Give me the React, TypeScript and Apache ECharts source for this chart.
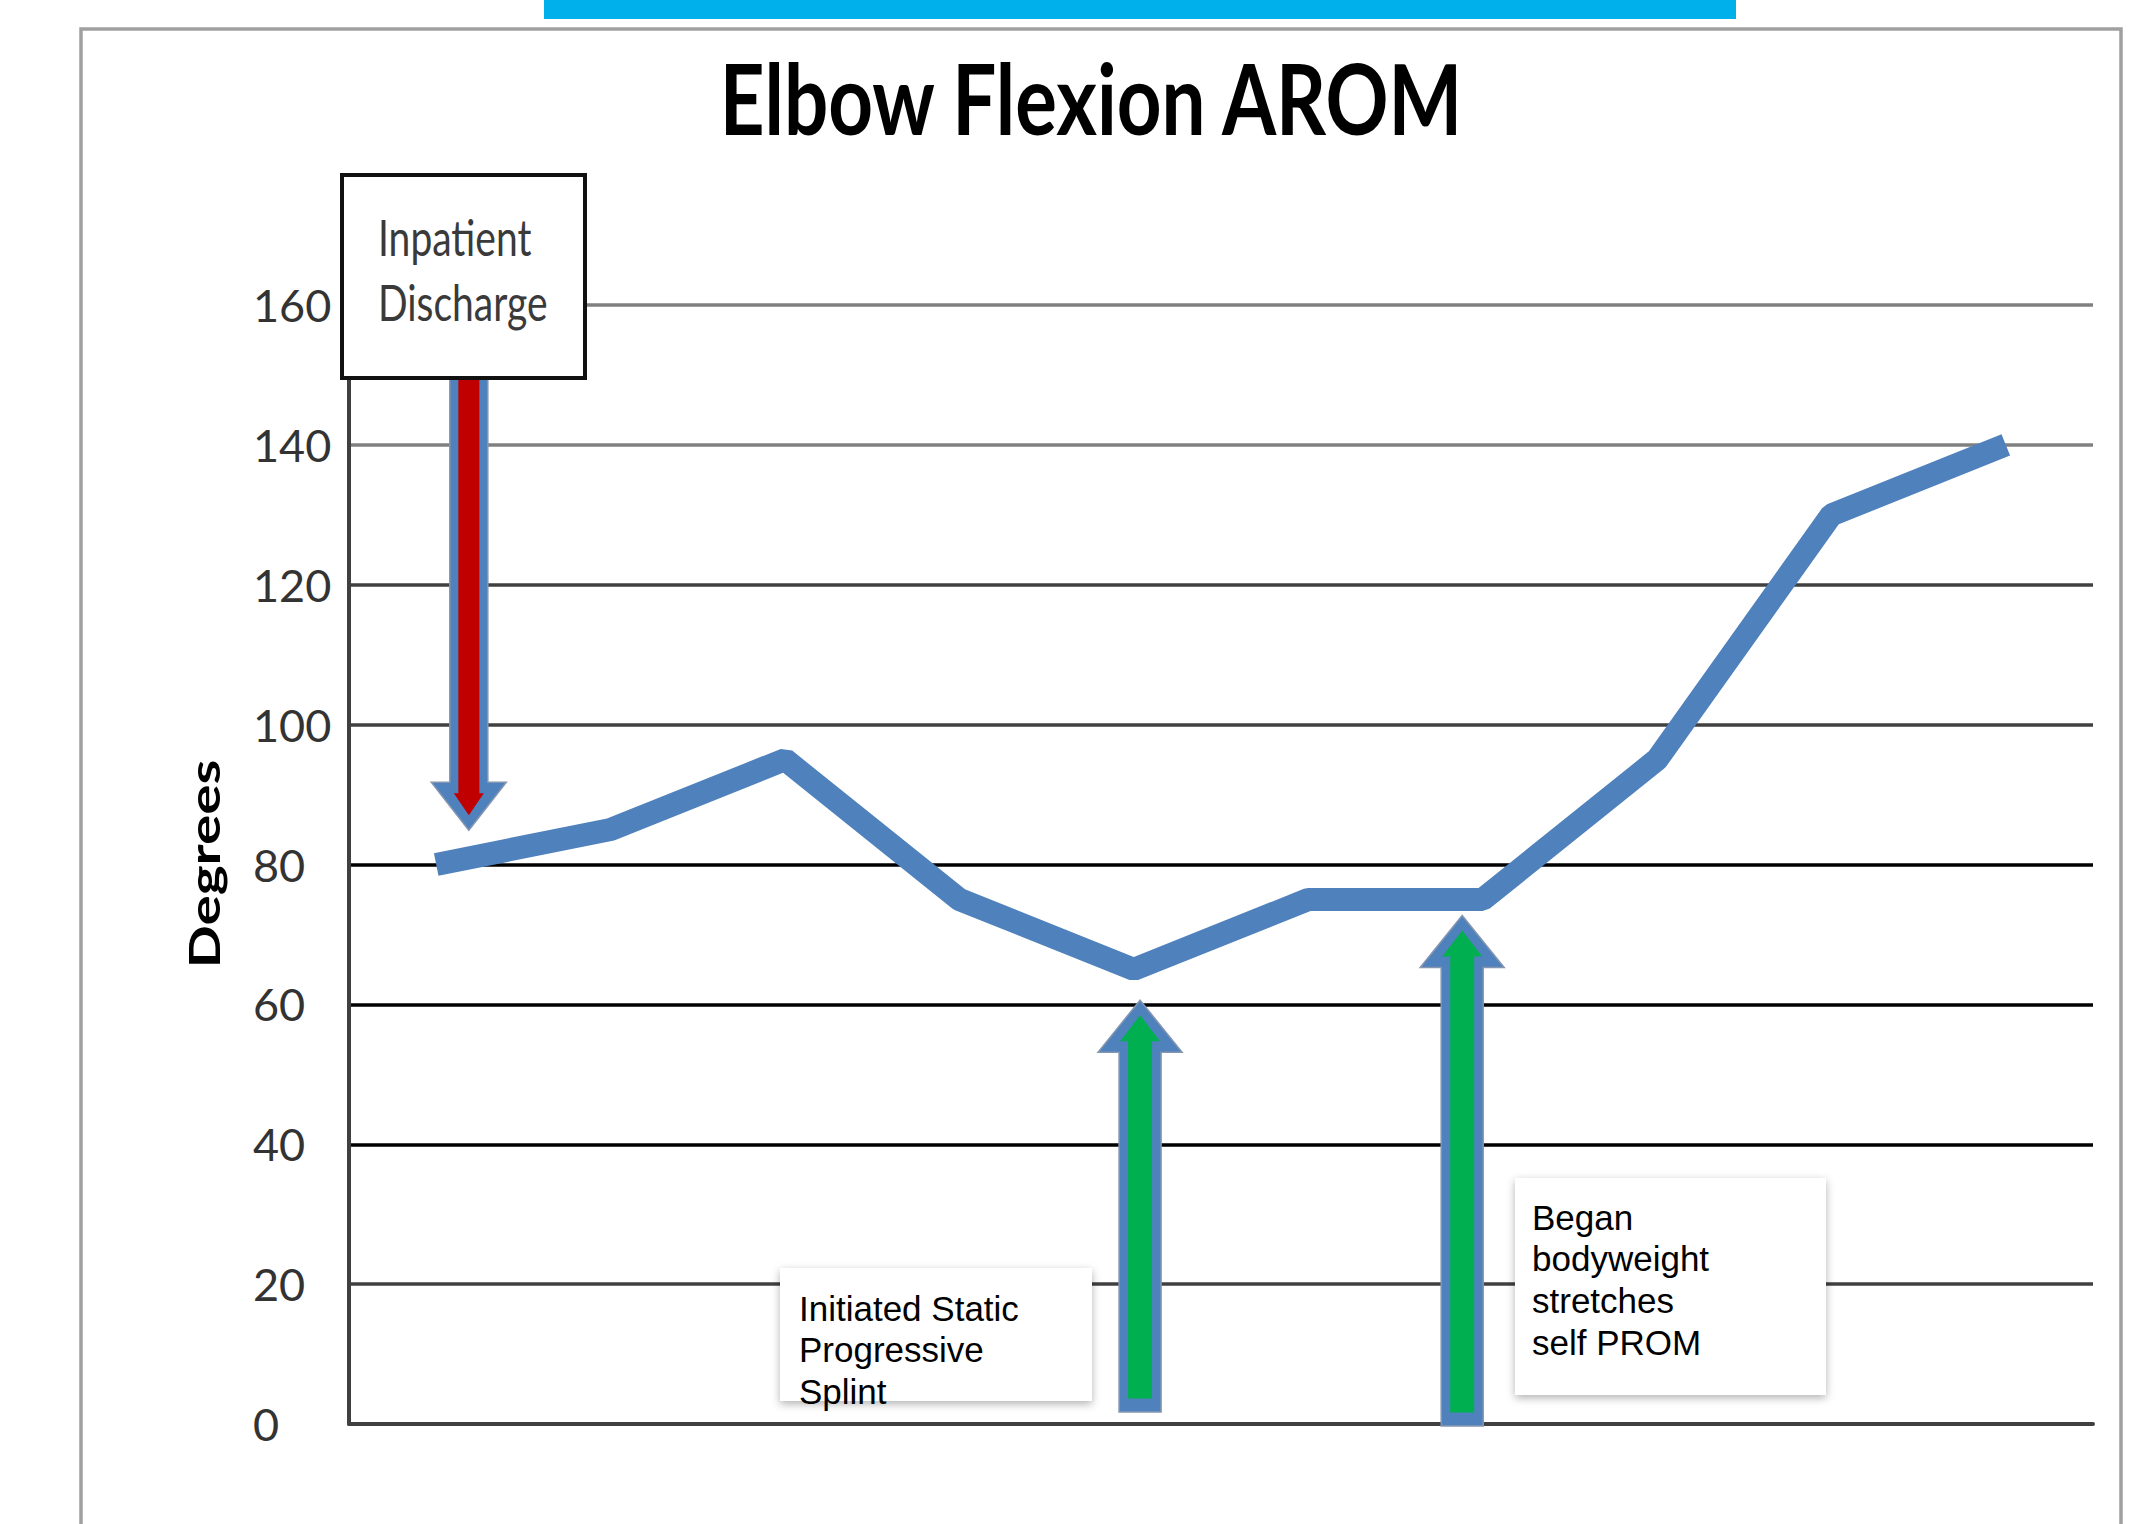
import React, { useEffect, useRef } from "react";
import * as echarts from "echarts";

// ---------- data ----------
const sessions = ["1", "2", "3", "4", "5", "6", "7", "8", "9", "10"];
const aromDegrees = [80, 85, 95, 75, 65, 75, 75, 95, 130, 140];
const yTickValues = [0, 20, 40, 60, 80, 100, 120, 140, 160];
const gridLineColors = ["#404040", "#404040", "#000000", "#000000", "#000000", "#404040", "#404040", "#808080", "#808080"];

const chartTitle = "Elbow Flexion AROM";
const yAxisTitle = "Degrees";
const dischargeLines = ["Inpatient", "Discharge"];
const splintLines = ["Initiated Static", "Progressive", "Splint"];
const stretchLines = ["Began", "bodyweight", "stretches", "self PROM"];

// annotation arrows: fractional category position, value at tip, value at tail
const arrowCategoryPos = [0.187, 4.036, 5.883];
const arrowTipValues = [84.9, 60.6, 72.7];
const arrowTailValues = [149.6, 1.7, -0.3];
const arrowFills = ["#c00000", "#00b050", "#00b050"];

const BLUE = "#4f81bd";

function arrowPoints(cx: number, tipY: number, tailY: number, shaftHalf: number, headHalf: number, headLen: number) {
  const d = tailY > tipY ? 1 : -1;
  const hb = tipY + d * headLen;
  return [
    [cx, tipY],
    [cx + headHalf, hb],
    [cx + shaftHalf, hb],
    [cx + shaftHalf, tailY],
    [cx - shaftHalf, tailY],
    [cx - shaftHalf, hb],
    [cx - headHalf, hb],
  ];
}

function textEl(text: string, x: number, y: number, font: any, extra: any = {}) {
  return {
    type: "text",
    x,
    y,
    z: 30,
    ...extra,
    style: {
      text,
      x: 0,
      y: 0,
      fill: font.fill || "#000",
      fontSize: font.fontSize,
      fontFamily: font.fontFamily,
      fontWeight: font.fontWeight || "normal",
      textAlign: font.align || "left",
      align: font.align || "left",
      textVerticalAlign: "middle",
      verticalAlign: "middle",
    },
  };
}

export default function App() {
  const ref = useRef<HTMLDivElement>(null);

  useEffect(() => {
    const el = ref.current;
    if (!el) return;
    const chart = echarts.init(el, null, { renderer: "svg" });
    chart.setOption({
      animation: false,
      backgroundColor: "#ffffff",
      grid: { left: 349, top: 305, width: 1744, height: 1119, containLabel: false },
      xAxis: {
        type: "category",
        data: sessions,
        boundaryGap: true,
        axisLine: { show: true, lineStyle: { color: "#404040", width: 4 } },
        axisTick: { show: false },
        axisLabel: { show: false },
        splitLine: { show: false },
      },
      yAxis: {
        type: "value",
        min: yTickValues[0],
        max: yTickValues[yTickValues.length - 1],
        interval: 20,
        axisLine: { show: true, lineStyle: { color: "#404040", width: 4 } },
        axisTick: { show: false },
        axisLabel: {
          show: true,
          align: "left",
          margin: 96,
          fontSize: 45,
          color: "#333333",
          fontFamily: "Lato, sans-serif",
        },
        splitLine: { show: true, lineStyle: { color: gridLineColors, width: 3.5 } },
      },
      series: [
        {
          type: "line",
          data: aromDegrees,
          symbol: "none",
          z: 3,
          lineStyle: { color: BLUE, width: 23, cap: "butt", join: "bevel" },
        },
      ],
    });

    const toPx = (cat: number, val: number) => {
      const i = Math.floor(cat);
      const f = cat - i;
      const a = chart.convertToPixel({ gridIndex: 0 }, [i, val]) as number[];
      const b = chart.convertToPixel({ gridIndex: 0 }, [i + 1, val]) as number[];
      return [a[0] + (b[0] - a[0]) * f, a[1]];
    };

    const graphics: any[] = [];
    // top cyan bar and frame
    graphics.push({ type: "rect", z: 1, shape: { x: 544, y: 0, width: 1192, height: 19 }, style: { fill: "#00b0ea" } });
    graphics.push({
      type: "polyline",
      z: 1,
      shape: { points: [[81, 1530], [81, 29], [2121, 29], [2121, 1530]] },
      style: { stroke: "#a0a0a0", lineWidth: 3.5, fill: "none" },
    });

    // title and axis name (stretched vertically like the reference)
    graphics.push(textEl(chartTitle, 1091, 97, { fontSize: 78, fontFamily: "Lato", fontWeight: "bold", align: "center" }, { scaleY: 1.25 }));
    graphics.push(textEl(yAxisTitle, 204, 864, { fontSize: 42, fontFamily: "Lato", fontWeight: "bold", align: "center" }, { rotation: Math.PI / 2, scaleX: 1.35 }));

    // arrows
    arrowCategoryPos.forEach((cat, k) => {
      const tip = toPx(cat, arrowTipValues[k]);
      const tail = toPx(cat, arrowTailValues[k]);
      const cx = tip[0];
      const isRed = k === 0;
      const dir = tail[1] > tip[1] ? 1 : -1;
      const outer = arrowPoints(cx, tip[1], tail[1], isRed ? 19 : 21, isRed ? 37.5 : 42, isRed ? 48 : 52);
      const inner = arrowPoints(
        cx,
        tip[1] + dir * 15,
        tail[1] - dir * (isRed ? 0 : 13.5),
        isRed ? 10.5 : 12,
        isRed ? 15 : 20,
        isRed ? 22 : 26
      );
      graphics.push({ type: "polygon", z: 20, shape: { points: outer }, style: { fill: BLUE, stroke: "#8596b0", lineWidth: 1.5 } });
      graphics.push({ type: "polygon", z: 21, shape: { points: inner }, style: { fill: arrowFills[k] } });
    });

    // Inpatient Discharge box
    graphics.push({
      type: "rect",
      z: 25,
      shape: { x: 342, y: 175, width: 243, height: 203 },
      style: { fill: "#ffffff", stroke: "#111111", lineWidth: 4 },
    });
    const dischargeFont = { fontSize: 39, fontFamily: "Lato", fill: "#3a3a3a" };
    dischargeLines.forEach((t, i) => {
      graphics.push(textEl(t, 378, 237 + i * 65, dischargeFont, { scaleY: 1.27 }));
    });

    // Splint text box
    const boxShadow = { shadowBlur: 9, shadowColor: "rgba(0,0,0,0.3)", shadowOffsetX: 0, shadowOffsetY: 3 };
    graphics.push({
      type: "rect",
      z: 25,
      shape: { x: 780, y: 1268, width: 312, height: 133 },
      style: { fill: "#ffffff", ...boxShadow },
    });
    const noteFont = { fontSize: 35, fontFamily: "'Liberation Sans', Arial, sans-serif", fill: "#000000" };
    splintLines.forEach((t, i) => {
      graphics.push(textEl(t, 799, 1308 + i * 41.5, noteFont));
    });

    // Stretch text box
    graphics.push({
      type: "rect",
      z: 25,
      shape: { x: 1515, y: 1178, width: 311, height: 217 },
      style: { fill: "#ffffff", ...boxShadow },
    });
    stretchLines.forEach((t, i) => {
      graphics.push(textEl(t, 1532, 1217 + i * 41.7, noteFont));
    });

    chart.setOption({ graphic: { elements: graphics } });

    return () => {
      chart.dispose();
    };
  }, []);

  return (
    <div
      ref={ref}
      style={{ position: "fixed", left: 0, top: 0, width: 2147, height: 1524, background: "#ffffff" }}
    />
  );
}
